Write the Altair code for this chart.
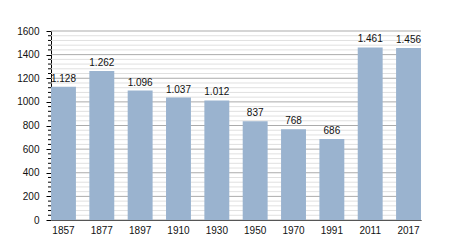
import altair as alt
import pandas as pd

years = ["1857", "1877", "1897", "1910", "1930", "1950", "1970", "1991", "2011", "2017"]
population = [1128, 1262, 1096, 1037, 1012, 837, 768, 686, 1461, 1456]
labels = ["1.128", "1.262", "1.096", "1.037", "1.012", "837", "768", "686", "1.461", "1.456"]
major_ticks = [0, 200, 400, 600, 800, 1000, 1200, 1400, 1600]

df = pd.DataFrame({"year": years, "pop": population, "label": labels})
minor = pd.DataFrame({"v": [v for v in range(0, 1601, 40) if v % 200 != 0]})
major = pd.DataFrame({"v": major_ticks})

W, H = 370, 189
FONT = "Liberation Sans"
yscale = alt.Scale(domain=[0, 1600], nice=False)
yaxis = alt.Axis(title=None, values=major_ticks, grid=False, tickSize=5, format="d",
                 labelOverlap=False, labelFlush=False,
                 tickColor="#000", domainColor="#000",
                 labelFont=FONT, labelFontSize=10, labelColor="#111",
                 labelPadding=7)

def Y(field):
    return alt.Y(field, type="quantitative", scale=yscale, axis=yaxis, title=None)

minor_grid = alt.Chart(minor).mark_rule(color="#e0e0e0", strokeWidth=1).encode(y=Y("v"))
major_grid = alt.Chart(major).mark_rule(color="#ababab", strokeWidth=1).encode(y=Y("v"))
minor_ticks = alt.Chart(minor).mark_rule(color="#000", strokeWidth=1).encode(
    y=Y("v"), x=alt.value(-3), x2=alt.value(0)
)

xaxis = alt.Axis(title=None, labelAngle=0, ticks=False, domainColor="#000",
                 labelFont=FONT, labelFontSize=10, labelColor="#111",
                 labelPadding=5)
xscale = alt.Scale(paddingInner=0.35, paddingOuter=0)

bars = alt.Chart(df).mark_bar(color="#9ab3cf").encode(
    x=alt.X("year:N", sort=years, scale=xscale, axis=xaxis),
    y=Y("pop")
)
text = alt.Chart(df).mark_text(dy=-5, baseline="alphabetic", font=FONT, fontSize=10,
                               color="#111").encode(
    x=alt.X("year:N", sort=years, scale=xscale, axis=xaxis),
    y=Y("pop"),
    text="label:N"
)

chart = alt.layer(minor_grid, major_grid, bars, text, minor_ticks).properties(
    width=W, height=H,
    autosize=alt.AutoSizeParams(type="none"),
    padding={"left": 51, "top": 31, "right": 29, "bottom": 30},
    background="white"
).configure_view(stroke=None)

chart.save("out.html", embed_options={"renderer": "svg", "actions": False})
